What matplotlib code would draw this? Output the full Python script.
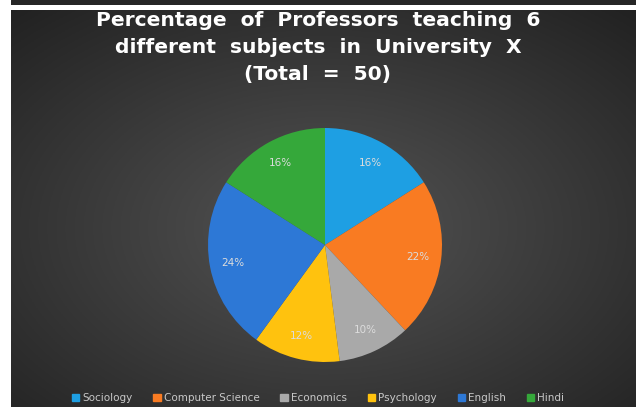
import matplotlib.pyplot as plt
import numpy as np
from matplotlib.patches import Patch

# data
subjects = ['Sociology', 'Computer Science', 'Economics', 'Psychology', 'English', 'Hindi']
percent = [16, 22, 10, 12, 24, 16]
colors = ['#1e9fe3', '#f97b22', '#a9a9a9', '#ffc20e', '#2d78d6', '#35a83a']

W, H = 636, 407
fig = plt.figure(figsize=(W / 100, H / 100), dpi=100)
fig.patch.set_facecolor('white')

# dark strip at very top
ax_top = fig.add_axes([11 / W, 1 - 5 / H, 1 - 11 / W, 5 / H])
ax_top.set_axis_off()
ax_top.add_patch(plt.Rectangle((0, 0), 1, 1, color='#262626', transform=ax_top.transAxes))

# chart background, radial gradient
ax_bg = fig.add_axes([11 / W, 0, 1 - 11 / W, (H - 10) / H])
ax_bg.set_axis_off()
yy, xx = np.mgrid[0:1:200j, 0:1:300j]
d = np.sqrt(((xx - 0.5) / 0.75) ** 2 + ((yy - 0.45) / 0.75) ** 2)
shade = 0.33 - 0.2 * np.clip(d, 0, 1)
img = np.dstack([shade, shade, shade])
ax_bg.imshow(img, extent=[0, 1, 0, 1], aspect='auto', origin='lower')

title = 'Percentage  of  Professors  teaching  6\ndifferent  subjects  in  University  X\n(Total  =  50)'
fig.text(0.5, 1 - 47.5 / H, title,
         ha='center', va='center', color='white', fontsize=14.6, fontweight='bold',
         family='DejaVu Sans', linespacing=1.55)

# pie
cx, cy, r = 325, 245, 117
ax = fig.add_axes([(cx - r) / W, 1 - (cy + r) / H, 2 * r / W, 2 * r / H])
ax.pie(percent, colors=colors, startangle=90, counterclock=False,
       autopct='%d%%', pctdistance=0.8,
       textprops=dict(color='#dcdcdc', fontsize=7.5),
       wedgeprops=dict(linewidth=0))
ax.set_xlim(-1, 1)
ax.set_ylim(-1, 1)
ax.set_aspect('auto')
ax.set_axis_off()

handles = [Patch(color=c, label=s) for c, s in zip(colors, subjects)]
leg = fig.legend(handles=handles, loc='center', bbox_to_anchor=(0.5, 1 - 398 / H),
                 ncol=6, frameon=False, fontsize=7.5, handlelength=0.7, handleheight=0.7,
                 handletextpad=0.3, columnspacing=2.0)
for t in leg.get_texts():
    t.set_color('#c8c8c8')

fig.savefig('out.png', dpi=100, facecolor=fig.get_facecolor())
